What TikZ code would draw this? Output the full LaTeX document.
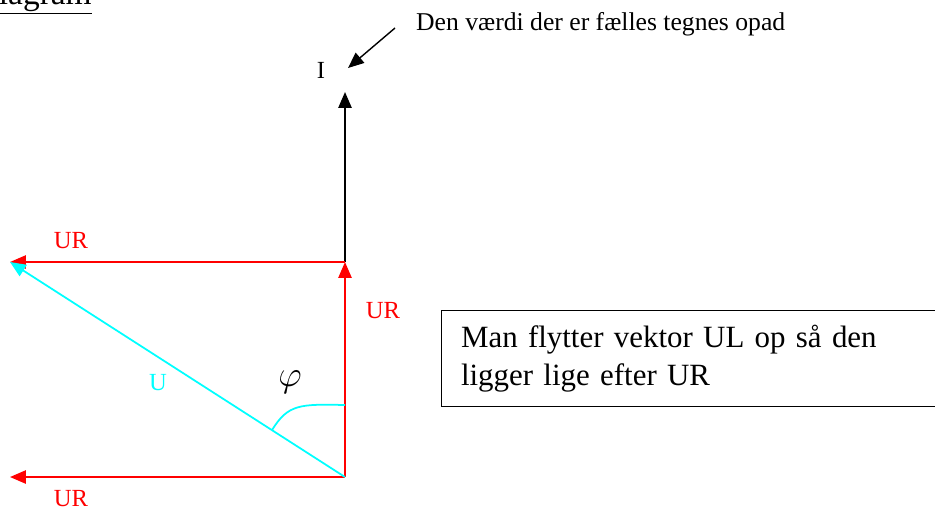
\documentclass[tikz,border=0pt]{standalone}
\usepackage{fontspec}
\setmainfont{Liberation Serif}
\usepackage{xcolor}
\usepackage{tikz}
\usetikzlibrary{arrows.meta, positioning, calc}
\definecolor{ur}{RGB}{255,0,0}
\definecolor{uu}{RGB}{0,255,255}

\begin{document}
\begin{tikzpicture}[x=0.02cm, y=-0.02cm, >={Triangle[length=9pt, width=7.5pt]},
      vec/.style={->, line width=1pt},
      urvec/.style={vec, draw=ur},
      lbl/.style={font=\fontsize{14}{16}\selectfont},
      urlbl/.style={lbl, text=ur}]
    \useasboundingbox (0,0) rectangle (935,512);

    \coordinate (O) at (345,477);
    \coordinate (A) at (345,262);
    \coordinate (T) at (345,92);
    \coordinate (L1) at (10,262);
    \coordinate (L2) at (10,477);

    \node[anchor=base east, inner xsep=0pt, font=\fontsize{19}{21}\selectfont] (title) at (92,4) {\underline{Diagram}};

    \draw[urvec] (O) -- (A);
    \draw[vec] (A) -- (T);
    \draw[urvec] (A) -- (L1);
    \draw[urvec] (O) -- (L2);
    \draw[vec, draw=uu] (O) -- (L1);

    \coordinate (P) at ($(O)!0.218!(L1)$);
    \coordinate (Q) at (345,405);
    \draw[uu, line width=1pt] (P) .. controls (288,404) and (300,404) .. (Q);

    \node[urlbl] (ur1) at (71,241) {UR};
    \node[urlbl] (ur2) at (383,311) {UR};
    \node[urlbl] (ur3) at (71,499) {UR};
    \node[lbl, text=uu] (u) at (158,383) {U};
    \node[font=\fontsize{20}{22}\selectfont] (phi) at (290,382) {$\varphi$};
    \node[lbl] (I) at (321,70) {I};

    \node[anchor=west, font=\fontsize{14.6}{16}\selectfont] (note) at (410,24) {Den værdi der er fælles tegnes opad};
    \coordinate (n1) at (395,28);
    \coordinate (n2) at (348,68);
    \draw[vec, line width=0.8pt] (n1) -- (n2);

    \node[draw, line width=0.8pt, anchor=north west, text width=470pt, minimum height=96*0.02cm,
          inner xsep=11pt, align=left, font=\fontsize{17.6}{22}\selectfont] (box) at (441,310)
          {Man flytter vektor UL op så den\\ligger lige efter UR};
  \end{tikzpicture}
\end{document}
